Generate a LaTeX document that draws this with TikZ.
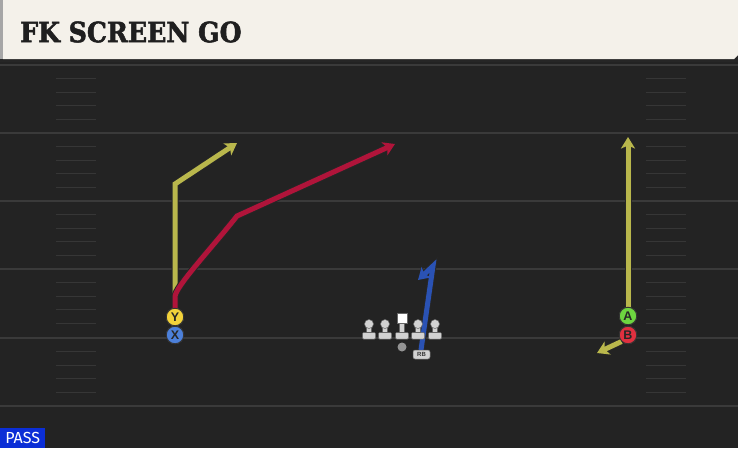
\documentclass[tikz,border=0pt]{standalone}
\usepackage{fontspec}
\setmainfont{Liberation Sans}
\newfontfamily\titlefont[BoldFeatures={FakeBold=1.8}]{DejaVu Serif Condensed}
\newfontfamily\passfont{Fira Sans}
\usetikzlibrary{arrows.meta}
\definecolor{field}{HTML}{232323}
\definecolor{yardc}{HTML}{3A3A3A}
\definecolor{hashc}{HTML}{363636}
\definecolor{headbg}{HTML}{F4F1EA}
\definecolor{routeY}{HTML}{B9B74C}
\definecolor{routeR}{HTML}{B0143A}
\definecolor{routeB}{HTML}{2A52B4}
\definecolor{circY}{HTML}{F2D23A}
\definecolor{circX}{HTML}{4C80DA}
\definecolor{circA}{HTML}{6DD540}
\definecolor{circB}{HTML}{E0303F}
\definecolor{olc}{HTML}{D2D2D2}
\definecolor{passb}{HTML}{0B2ED6}
\tikzset{
  yard/.style={draw=yardc, line width=1.6pt},
  hashm/.style={draw=hashc, line width=1.2pt},
  routeout/.style={draw=black!85, line width=7pt, -{Stealth[length=13pt,width=17pt,inset=3.5pt]}},
  routein/.style={line width=5pt, -{Stealth[length=11.5pt,width=14pt,inset=3pt]}},
  player/.style={circle, draw=black!80, line width=0.9pt, minimum size=17.5pt, inner sep=0pt, font=\bfseries\fontsize{12.5}{12.5}\selectfont, text=black!85},
  ol/.style={fill=olc, draw=black!60, line width=0.5pt}
}
\newcommand{\lineman}[1]{%
  \filldraw[ol, rounded corners=1pt] (#1-6.5,332.5) rectangle (#1+6.5,339);
  \filldraw[ol] (#1-2.5,325) rectangle (#1+2.5,332.5);
  \filldraw[ol] (#1,324) circle (4.5);
}
\begin{document}
\begin{tikzpicture}[x=1pt,y=-1pt]
\useasboundingbox (0,0) rectangle (738,448);
\fill[field] (0,0) rectangle (738,448);
% yard lines
\foreach \yy in {65,133,201,269,338,406} {\draw[yard] (0,\yy) -- (738,\yy);}
% hash marks
\foreach \yy in {65,133,201,269,338} {
  \foreach \k in {1,2,3,4} {
    \draw[hashm] (56,\yy+\k*13.6) -- (96,\yy+\k*13.6);
    \draw[hashm] (646,\yy+\k*13.6) -- (686,\yy+\k*13.6);
  }
}
% header
\fill[black!85] (0,0) rectangle (738,62);
\fill[headbg] (3,0) -- (738,0) -- (738,55) -- (734,59) -- (3,59) -- cycle;
\fill[black!35] (0,0) rectangle (3,59);
\node[anchor=west, inner sep=0pt, font=\titlefont\bfseries\fontsize{28}{28}\selectfont, text=black!88] (title) at (20,32) {FK SCREEN GO};
% players
\node[player, fill=circY] (Y) at (175,317) {Y};
\node[player, fill=circX] (X) at (175,335) {X};
\node[player, fill=circA] (A) at (628,316) {A};
\node[player, fill=circB] (B) at (628,335) {B};
\coordinate (y1) at (175,184);
\coordinate (y2) at (237,143);
\coordinate (r0) at (175,297);
\coordinate (r1) at (237,216);
\coordinate (r2) at (395,144);
\coordinate (a1) at (628,137);
\coordinate (b1) at (597,353);
\coordinate (rbs) at (421,350);
\coordinate (rb1) at (433,266);
\coordinate (rb2) at (418,280);
% yellow Y route
\draw[routeout] (Y.north) -- (y1) -- (y2);
\draw[routein, draw=routeY] (Y.north) -- (y1) -- (y2);
% red route
\draw[routeout] (Y.north) -- (r0) .. controls (175,287) and (210,250) .. (r1) -- (r2);
\draw[routein, draw=routeR] (Y.north) -- (r0) .. controls (175,287) and (210,250) .. (r1) -- (r2);
% A route
\draw[routeout] (A.north) -- (a1);
\draw[routein, draw=routeY] (A.north) -- (a1);
% B route
\draw[routeout] (B.south west) -- (b1);
\draw[routein, draw=routeY] (B.south west) -- (b1);
% RB route
\draw[routeout] (rbs) -- (rb1) -- (rb2);
\draw[routein, draw=routeB] (rbs) -- (rb1) -- (rb2);
% redraw player circles on top
\node[player, fill=circY] at (175,317) {Y};
\node[player, fill=circX] at (175,335) {X};
\node[player, fill=circA] at (628,316) {A};
\node[player, fill=circB] at (628,335) {B};
% line
\lineman{369}
\lineman{385}
\lineman{418}
\lineman{435}
\filldraw[ol, rounded corners=1pt] (395.5,332.5) rectangle (408.5,339);
\filldraw[ol] (399.5,323) rectangle (404.5,332.5);
\filldraw[fill=white, draw=black!60, line width=0.5pt] (397,313.5) rectangle (407,323);
\node[circle, fill=olc!70!black, minimum size=9pt, inner sep=0pt] (qb) at (402,347) {};
\node[rounded corners=2pt, fill=olc, draw=black!60, line width=0.5pt, minimum width=17pt, minimum height=9pt, inner sep=0pt, font=\bfseries\fontsize{6}{6}\selectfont, text=black!80] (rb) at (421.5,354.5) {RB};
% PASS
\node[anchor=south west, fill=passb, text=white, inner sep=0pt, minimum width=45pt, minimum height=20pt, font=\passfont\fontsize{16}{16}\selectfont] (pass) at (0,448) {PASS};
\end{tikzpicture}
\end{document}
